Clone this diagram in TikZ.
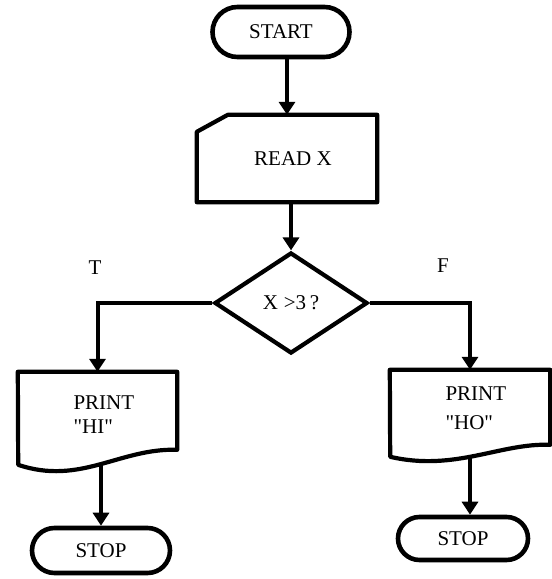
\documentclass[tikz,border=0pt]{standalone}
\usepackage{fontspec}
\setmainfont{Liberation Serif}[Ligatures=TeXOff]
\usetikzlibrary{arrows.meta,shapes.geometric,shapes.misc}
\begin{document}
\begin{tikzpicture}[x=1pt,y=-1pt,
  every node/.style={font=\fontsize{21}{24}\selectfont},
  term/.style={draw, rounded rectangle, line width=4.6pt, inner sep=0pt},
  frame/.style={draw, line width=4.2pt, line join=round},
  slot/.style={inner sep=0pt},
  arr/.style={line width=4pt, -{Triangle[width=16pt,length=13pt]}},
]
\path[fill=white, use as bounding box] (0,0) rectangle (552,579);

% terminals
\node[term, minimum width=137pt, minimum height=50pt] (start) at (281,32) {START};
\node[term, minimum width=138pt, minimum height=45pt] (stopl) at (101,550.5) {STOP};
\node[term, minimum width=130pt, minimum height=43pt] (stopr) at (463,538.5) {STOP};

% input card with clipped corner
\node[slot, minimum width=180pt, minimum height=87pt] (read) at (287,158.5) {\hspace*{12pt}READ X};
\draw[frame] ([yshift=-17pt]read.north west) -- ([xshift=31pt]read.north west)
  -- (read.north east) -- (read.south east) -- (read.south west) -- cycle;

% decision
\node[draw, diamond, line width=4.2pt, minimum width=153pt, minimum height=101pt,
      inner sep=0pt] (dec) at (291,303) {X\;>3\,?};
\node (t) at (95,268) {T};
\node (f) at (443,266) {F};

% output documents
\node[slot, minimum width=159pt, minimum height=92pt] (hi) at (97.5,418) {};
\draw[frame] (hi.north west) -- (hi.north east) -- ++(0,78)
  .. controls +(-57,-2) and +(62,21) .. ++(-159,15) -- cycle;
\node[anchor=west, align=left] (hitxt) at (70,415) {PRINT\\"HI"};

\node[slot, minimum width=160pt, minimum height=87pt] (ho) at (470,413.5) {};
\draw[frame] (ho.north west) -- (ho.north east) -- ++(0,75)
  .. controls +(-50,-2) and +(65,15) .. ++(-160,12) -- cycle;
\node[anchor=west, align=left] (hotxt) at (442,408) {PRINT\\[5pt]"HO"};

% connectors
\draw[arr] (start.south -| read.north) -- (read.north);
\draw[arr] (read.south -| dec.north) -- (dec.north);
\draw[arr] (dec.west) -| (hi.north);
\draw[arr] (dec.east) -| (ho.north);
\draw[arr] (stopl.north |- hi.south) -- (stopl.north);
\draw[arr] (ho.south) -- (ho.south |- stopr.north);
\end{tikzpicture}
\end{document}
